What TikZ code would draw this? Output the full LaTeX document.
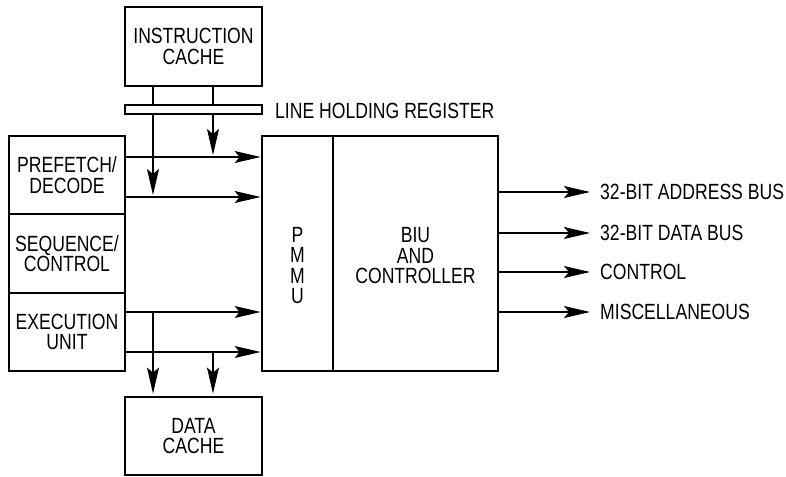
\documentclass[tikz,border=0pt]{standalone}
\usepackage{fontspec}
\setmainfont{Liberation Sans}[FakeStretch=0.8]
\usetikzlibrary{arrows.meta}
\tikzset{
  blk/.style={draw, line width=2.8pt, minimum width=#1, inner sep=0pt, align=center,
    font=\fontsize{22}{20.5}\selectfont},
  lbl/.style={inner sep=0pt, align=center, font=\fontsize{22}{20.5}\selectfont},
  conn/.style={line width=1.4pt},
  arr/.style={conn, -{Stealth[length=26pt,width=12pt,inset=5pt]}},
}
\begin{document}
\begin{tikzpicture}[x=1pt,y=-1pt]
\useasboundingbox (0,0) rectangle (786,476);
% blocks
\node[blk=137pt, minimum height=79pt] (ic) at (193.5,46.5) {INSTRUCTION\\CACHE};
\node[draw, line width=1.4pt, minimum width=137pt, minimum height=9pt, inner sep=0pt] (lhr) at (193.5,109.5) {};
\node[lbl, anchor=west] (lhrt) at (275,110.5) {LINE HOLDING REGISTER};
\node[blk=116pt, minimum height=78pt] (pd) at (67,175) {PREFETCH/\\DECODE};
\node[blk=116pt, minimum height=79pt] (sc) at (67,253.5) {SEQUENCE/\\CONTROL};
\node[blk=116pt, minimum height=78pt] (eu) at (67,332) {EXECUTION\\UNIT};
\node[blk=71pt, minimum height=235pt] (pmmu) at (297.5,253.5) {};
\node[blk=165pt, minimum height=235pt] (biu) at (415.5,253.5) {};
\node[lbl] (pmmut) at (297.5,265.5) {P\\M\\M\\U};
\node[lbl] (biut) at (415.5,256) {BIU\\AND\\CONTROLLER};
\node[blk=137pt, minimum height=78pt] (dc) at (193.5,436) {DATA\\CACHE};
% coordinates
\coordinate (xa) at (153,0);
\coordinate (xb) at (213,0);
\coordinate (r1) at (0,157);
\coordinate (r2) at (0,197);
\coordinate (r3) at (0,312);
\coordinate (r4) at (0,352);
\coordinate (ta) at (153,195);
\coordinate (tb) at (213,155);
% instruction cache connectors
\draw[conn] (ic.south -| xa) -- (lhr.north -| xa);
\draw[conn] (ic.south -| xb) -- (lhr.north -| xb);
\draw[arr] (lhr.south -| xa) -- (ta);
\draw[arr] (lhr.south -| xb) -- (tb);
% horizontal arrows to PMMU
\draw[arr] (pd.east |- r1) -- (pmmu.west |- r1);
\draw[arr] (pd.east |- r2) -- (pmmu.west |- r2);
\draw[arr] (eu.east |- r3) -- (pmmu.west |- r3);
\draw[arr] (eu.east |- r4) -- (pmmu.west |- r4);
% data cache connectors
\draw[arr] (xa |- r3) -- ([yshift=2pt]dc.north -| xa);
\draw[arr] (xb |- r4) -- ([yshift=2pt]dc.north -| xb);
% outputs
\foreach \y/\t [count=\i] in {192/32-BIT ADDRESS BUS, 233/32-BIT DATA BUS, 272/CONTROL, 312/MISCELLANEOUS}{
  \coordinate (o\i) at (590,\y);
  \node[lbl, anchor=west] (ol\i) at (600,\y) {\t};
  \draw[arr] (biu.east |- o\i) -- (o\i);
}
\end{tikzpicture}
\end{document}
